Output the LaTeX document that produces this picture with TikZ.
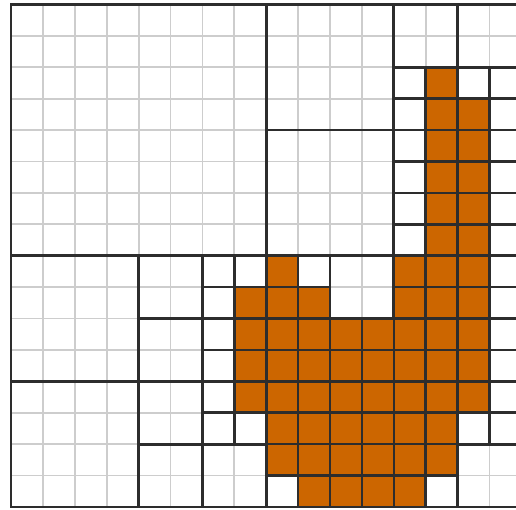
\documentclass[tikz,border=0pt]{standalone}
\definecolor{orng}{RGB}{204,102,0}
\definecolor{dk}{RGB}{45,45,45}
\definecolor{lt}{RGB}{205,205,205}
\tikzset{
  lightline/.style={lt, line width=1.8pt},
  cellbox/.style={dk, line width=2.6pt},
  blockbox/.style={dk, line width=2.8pt},
}
\begin{document}
\begin{tikzpicture}[x=1pt,y=-1pt]
\useasboundingbox (0,0) rectangle (516,510);
\fill[white] (0,0) rectangle (516,510);
\begin{scope}
\clip (0,0) rectangle (516,510);
\begin{scope}[shift={(11,4.5)}, x=31.9pt, y=-31.4pt]
  % light background grid
  \foreach \i in {0,...,16} {
    \draw[lightline] (\i,0) -- (\i,16);
    \draw[lightline] (0,\i) -- (16,\i);
  }
  % orange cells
  \foreach \c/\r in {13/2,
      13/3,14/3, 13/4,14/4, 13/5,14/5, 13/6,14/6, 13/7,14/7,
      8/8,12/8,13/8,14/8,
      7/9,8/9,9/9,12/9,13/9,14/9} {
    \fill[orng] (\c,\r) rectangle ++(1,1);
  }
  \foreach \r in {10,11,12} {
    \foreach \c in {7,...,14} { \fill[orng] (\c,\r) rectangle ++(1,1); }
  }
  \foreach \r in {13,14} {
    \foreach \c in {8,...,13} { \fill[orng] (\c,\r) rectangle ++(1,1); }
  }
  \foreach \c in {9,...,12} { \fill[orng] (\c,15) rectangle ++(1,1); }
  % single-cell leaves (dark borders)
  \foreach \c in {12,...,15} {
    \foreach \r in {2,...,7} { \draw[cellbox] (\c,\r) rectangle ++(1,1); }
  }
  \foreach \c in {6,7} {
    \foreach \r in {8,...,13} { \draw[cellbox] (\c,\r) rectangle ++(1,1); }
  }
  \foreach \c in {8,9,12,13,14,15} {
    \foreach \r in {8,9} { \draw[cellbox] (\c,\r) rectangle ++(1,1); }
  }
  \foreach \c in {8,...,15} {
    \foreach \r in {10,...,13} { \draw[cellbox] (\c,\r) rectangle ++(1,1); }
  }
  \foreach \c in {8,...,13} {
    \foreach \r in {14,15} { \draw[cellbox] (\c,\r) rectangle ++(1,1); }
  }
  % larger quadtree leaves
  \foreach \c/\r/\s in {0/0/8, 8/0/4, 8/4/4, 0/8/4, 0/12/4,
      12/0/2, 14/0/2, 4/8/2, 4/10/2, 4/12/2, 4/14/2, 6/14/2, 10/8/2, 14/14/2} {
    \draw[blockbox] (\c,\r) rectangle ++(\s,\s);
  }
\end{scope}
\end{scope}
\end{tikzpicture}
\end{document}
